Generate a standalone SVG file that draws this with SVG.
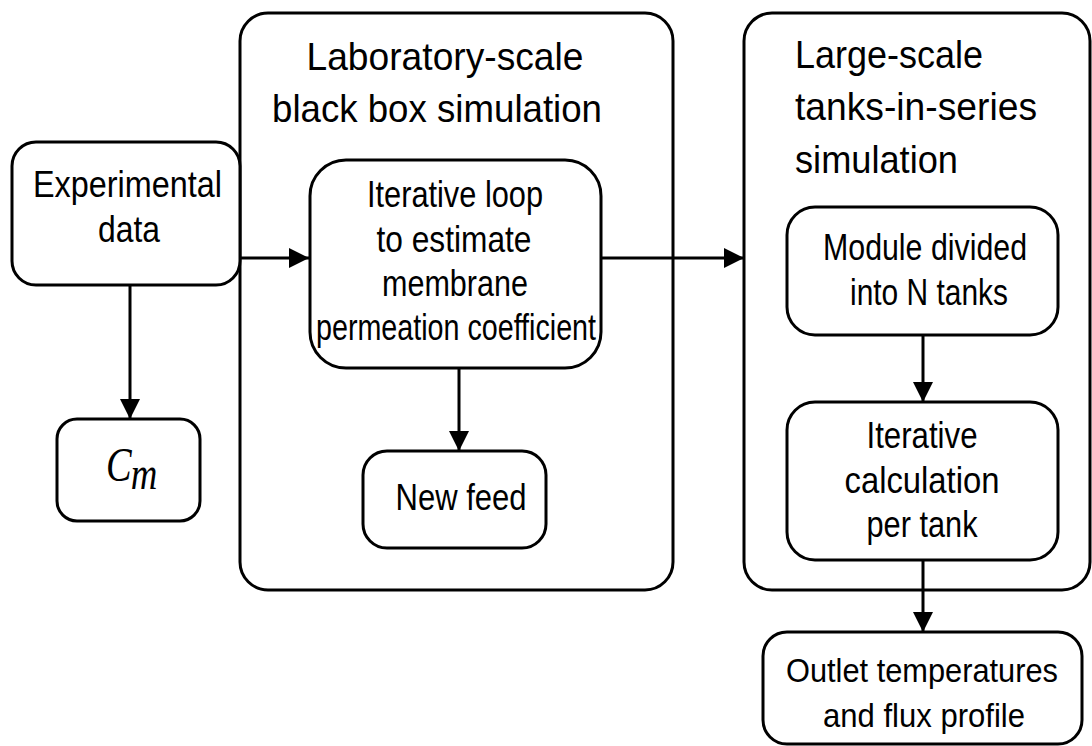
<svg xmlns="http://www.w3.org/2000/svg" width="1092" height="746" viewBox="0 0 1092 746">
  <defs>
    <style>
      .box { fill: #ffffff; stroke: #000000; stroke-width: 3; }
      .conn { fill: none; stroke: #000000; stroke-width: 3; marker-end: url(#arrow); }
      .title { font-family: "Liberation Sans", Arial, sans-serif; font-size: 39px; fill: #000000; }
      .body { font-family: "Liberation Sans", Arial, sans-serif; font-size: 37px; fill: #000000; text-anchor: middle; }
      .small { font-size: 34px; }
      .math { font-family: "Liberation Serif", "Times New Roman", serif; font-style: italic; fill: #000000; }
    </style>
    <marker id="arrow" markerUnits="userSpaceOnUse" markerWidth="20" markerHeight="20" refX="20" refY="10" orient="auto">
      <path d="M0,0 L20,10 L0,20 Z" fill="#000000"/>
    </marker>
  </defs>
  <rect width="1092" height="746" fill="#ffffff"/>

  <!-- Laboratory-scale container -->
  <g id="lab-scale">
    <rect class="box" x="240" y="13" width="433" height="577" rx="28"/>
    <text class="title" text-anchor="middle" x="445" y="70" textLength="277" lengthAdjust="spacingAndGlyphs">Laboratory-scale</text>
    <text class="title" text-anchor="middle" x="437" y="122" textLength="330" lengthAdjust="spacingAndGlyphs">black box simulation</text>
  </g>

  <!-- Large-scale container -->
  <g id="large-scale">
    <rect class="box" x="744" y="13" width="346" height="577" rx="28"/>
    <text class="title" x="795" y="68" textLength="188" lengthAdjust="spacingAndGlyphs">Large-scale</text>
    <text class="title" x="795" y="120" textLength="242" lengthAdjust="spacingAndGlyphs">tanks-in-series</text>
    <text class="title" x="795" y="173" textLength="163" lengthAdjust="spacingAndGlyphs">simulation</text>
  </g>

  <!-- Experimental data -->
  <g id="experimental-data">
    <rect class="box" x="12" y="142" width="228" height="143" rx="24"/>
    <text class="body" x="127.5" y="197" textLength="189" lengthAdjust="spacingAndGlyphs">Experimental</text>
    <text class="body" x="129" y="242" textLength="62" lengthAdjust="spacingAndGlyphs">data</text>
  </g>

  <!-- C_m -->
  <g id="cm">
    <rect class="box" x="57" y="419" width="143" height="102" rx="20"/>
    <text class="math" transform="translate(106,0) scale(0.8,1)"><tspan x="0" y="481" font-size="48">C</tspan><tspan x="31" y="489" font-size="46">m</tspan></text>
  </g>

  <!-- Iterative loop -->
  <g id="iterative-loop">
    <rect class="box" x="310" y="160" width="291" height="208" rx="36"/>
    <text class="body" x="455" y="207" textLength="176" lengthAdjust="spacingAndGlyphs">Iterative loop</text>
    <text class="body" x="454" y="252" textLength="155" lengthAdjust="spacingAndGlyphs">to estimate</text>
    <text class="body" x="455" y="296" textLength="146" lengthAdjust="spacingAndGlyphs">membrane</text>
    <text class="body" x="456" y="340" textLength="280" lengthAdjust="spacingAndGlyphs">permeation coefficient</text>
  </g>

  <!-- New feed -->
  <g id="new-feed">
    <rect class="box" x="363" y="451" width="183" height="97" rx="24"/>
    <text class="body" x="461" y="510" textLength="131" lengthAdjust="spacingAndGlyphs">New feed</text>
  </g>

  <!-- Module divided into N tanks -->
  <g id="module-divided">
    <rect class="box" x="787" y="207" width="271" height="128" rx="28"/>
    <text class="body" x="925" y="260" textLength="204" lengthAdjust="spacingAndGlyphs">Module divided</text>
    <text class="body" x="929" y="305" textLength="158" lengthAdjust="spacingAndGlyphs">into N tanks</text>
  </g>

  <!-- Iterative calculation per tank -->
  <g id="iterative-calculation">
    <rect class="box" x="787" y="402" width="271" height="158" rx="28"/>
    <text class="body" x="922" y="448" textLength="111" lengthAdjust="spacingAndGlyphs">Iterative</text>
    <text class="body" x="922" y="493" textLength="155" lengthAdjust="spacingAndGlyphs">calculation</text>
    <text class="body" x="922" y="537" textLength="111" lengthAdjust="spacingAndGlyphs">per tank</text>
  </g>

  <!-- Outlet temperatures -->
  <g id="outlet">
    <rect class="box" x="763" y="632" width="319" height="112" rx="24"/>
    <text class="body small" x="922" y="682" textLength="272" lengthAdjust="spacingAndGlyphs">Outlet temperatures</text>
    <text class="body small" x="924" y="727" textLength="202" lengthAdjust="spacingAndGlyphs">and flux profile</text>
  </g>

  <!-- Connectors -->
  <g id="connectors">
    <path class="conn" d="M240,258 L309,258"/>
    <path class="conn" d="M601,258 L744,258"/>
    <path class="conn" d="M130,285 L130,419"/>
    <path class="conn" d="M459,368 L459,451"/>
    <path class="conn" d="M923,335 L923,402"/>
    <path class="conn" d="M923,560 L923,632"/>
  </g>
</svg>
